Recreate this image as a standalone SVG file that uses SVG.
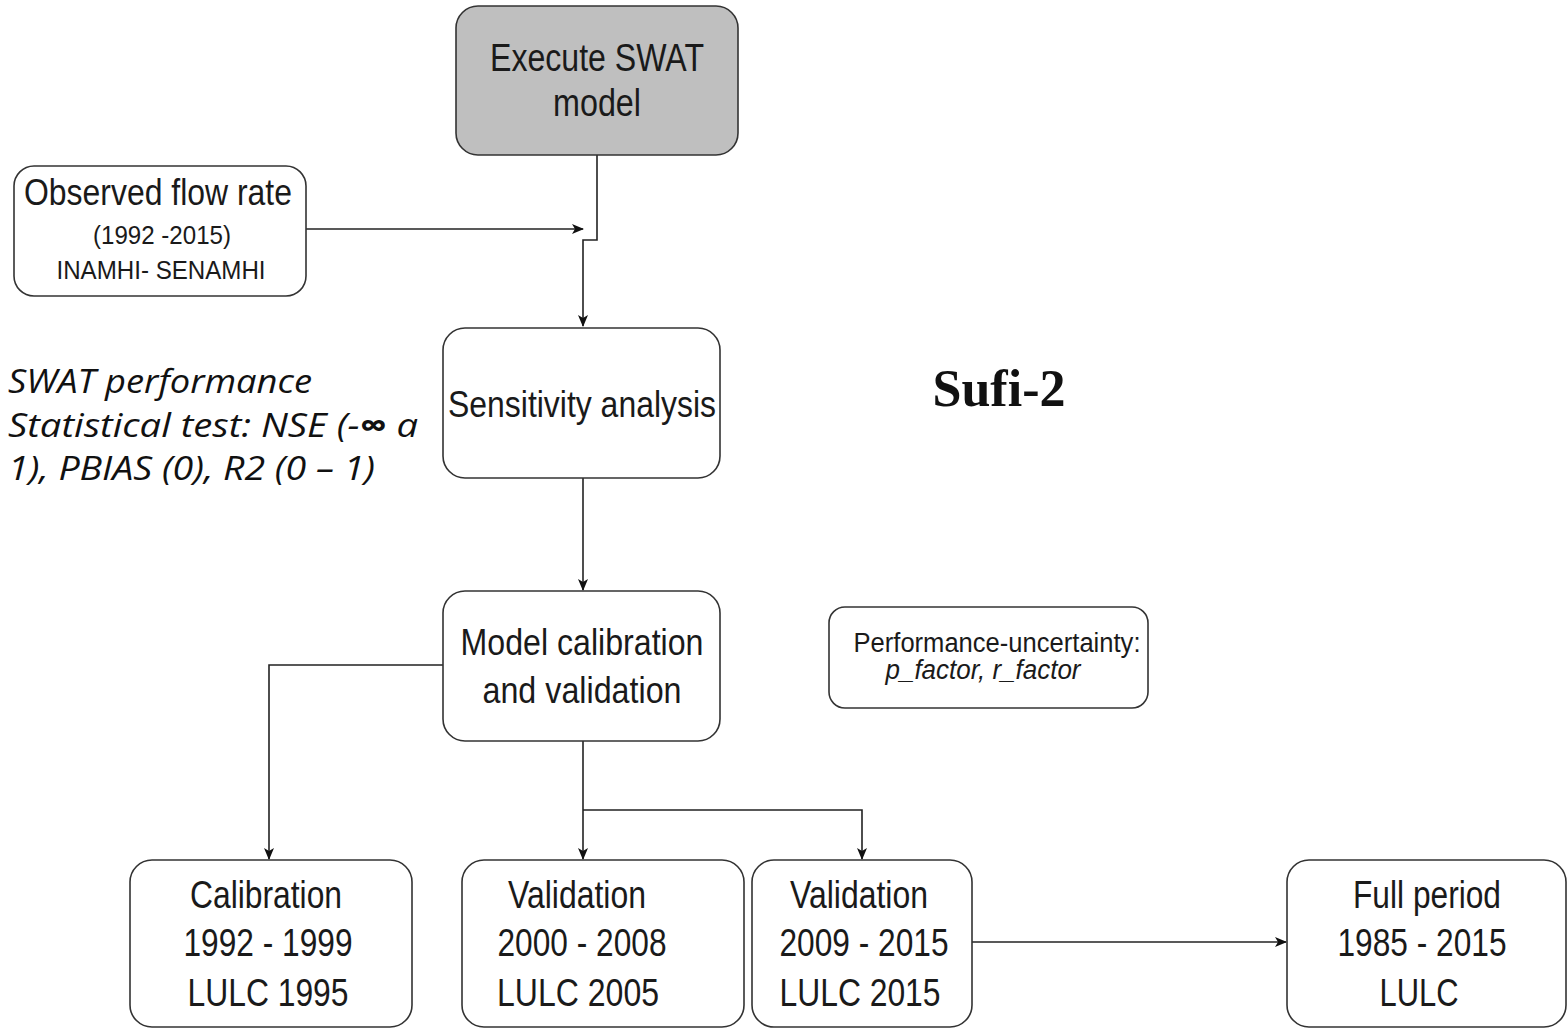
<svg xmlns="http://www.w3.org/2000/svg" width="1568" height="1029" viewBox="0 0 1568 1029">
<defs>
<marker id="ah" markerWidth="12" markerHeight="10" refX="11" refY="5" orient="auto" markerUnits="userSpaceOnUse">
<path d="M0,0 L12,5 L0,10 L3,5 Z" fill="#111"/>
</marker>
<style>
.box{fill:#fff;stroke:#333;stroke-width:1.6}
.t{font-family:"Liberation Sans",Arial,sans-serif;fill:#1a1a1a;text-anchor:middle;dominant-baseline:central}
.c{fill:none;stroke:#222;stroke-width:1.6}
.it{font-family:"Open Sans","Liberation Sans",sans-serif;font-style:italic;fill:#111;dominant-baseline:central}
</style>
</defs>
<rect width="1568" height="1029" fill="#fff"/>
<g id="connectors">
<polyline class="c" points="597,155 597,240 583,240 583,326" marker-end="url(#ah)"/>
<line class="c" x1="306" y1="229" x2="583" y2="229" marker-end="url(#ah)"/>
<line class="c" x1="583" y1="478" x2="583" y2="590" marker-end="url(#ah)"/>
<polyline class="c" points="443,665 269,665 269,859" marker-end="url(#ah)"/>
<line class="c" x1="583" y1="741" x2="583" y2="859" marker-end="url(#ah)"/>
<polyline class="c" points="583,810 862,810 862,859" marker-end="url(#ah)"/>
<line class="c" x1="972" y1="942" x2="1286" y2="942" marker-end="url(#ah)"/>
</g>
<g id="execute">
<rect x="456" y="6" width="282" height="149" rx="22" fill="#bfbfbf" stroke="#333" stroke-width="1.6"/>
<text class="t" x="597" y="58" font-size="38" textLength="214" lengthAdjust="spacingAndGlyphs">Execute SWAT</text>
<text class="t" x="597" y="103" font-size="38" textLength="88" lengthAdjust="spacingAndGlyphs">model</text>
</g>
<g id="observed">
<rect class="box" x="14" y="166" width="292" height="130" rx="20"/>
<text class="t" x="158" y="192" font-size="36" textLength="268" lengthAdjust="spacingAndGlyphs">Observed flow rate</text>
<text class="t" x="162" y="235" font-size="26" textLength="138" lengthAdjust="spacingAndGlyphs">(1992 -2015)</text>
<text class="t" x="161" y="270" font-size="26" textLength="209" lengthAdjust="spacingAndGlyphs">INAMHI- SENAMHI</text>
</g>
<g id="sensitivity">
<rect class="box" x="443" y="328" width="277" height="150" rx="22"/>
<text class="t" x="582" y="404" font-size="36" textLength="268" lengthAdjust="spacingAndGlyphs">Sensitivity analysis</text>
</g>
<g id="swatperf">
<text class="it" x="8" y="380" font-size="33" textLength="304" lengthAdjust="spacingAndGlyphs">SWAT performance</text>
<text class="it" x="8" y="424" font-size="33" textLength="410" lengthAdjust="spacingAndGlyphs">Statistical test: NSE (-<tspan font-weight="bold">∞</tspan>     a</text>
<text class="it" x="8" y="467" font-size="33" textLength="367" lengthAdjust="spacingAndGlyphs">1), PBIAS (0), R2 (0 – 1)</text>
</g>
<g id="sufi">
<text x="999" y="388" font-family="'Liberation Serif','Times New Roman',serif" font-weight="bold" font-size="52" fill="#111" text-anchor="middle" dominant-baseline="central">Sufi-2</text>
</g>
<g id="calibval">
<rect class="box" x="443" y="591" width="277" height="150" rx="22"/>
<text class="t" x="582" y="642" font-size="36" textLength="243" lengthAdjust="spacingAndGlyphs">Model calibration</text>
<text class="t" x="582" y="690" font-size="36" textLength="199" lengthAdjust="spacingAndGlyphs">and validation</text>
</g>
<g id="performance">
<rect class="box" x="829" y="607" width="319" height="101" rx="16"/>
<text class="t" x="997" y="643" font-size="27" textLength="287" lengthAdjust="spacingAndGlyphs">Performance-uncertainty:</text>
<text class="t" x="983" y="670" font-size="27" font-style="italic" textLength="195" lengthAdjust="spacingAndGlyphs">p_factor, r_factor</text>
</g>
<g id="calibration">
<rect class="box" x="130" y="860" width="282" height="167" rx="22"/>
<text class="t" x="266" y="895" font-size="38" textLength="152" lengthAdjust="spacingAndGlyphs">Calibration</text>
<text class="t" x="268" y="943" font-size="38" textLength="169" lengthAdjust="spacingAndGlyphs">1992 - 1999</text>
<text class="t" x="268" y="993" font-size="38" textLength="161" lengthAdjust="spacingAndGlyphs">LULC 1995</text>
</g>
<g id="validation1">
<rect class="box" x="462" y="860" width="282" height="167" rx="22"/>
<text class="t" x="577" y="895" font-size="38" textLength="138" lengthAdjust="spacingAndGlyphs">Validation</text>
<text class="t" x="582" y="943" font-size="38" textLength="169" lengthAdjust="spacingAndGlyphs">2000 - 2008</text>
<text class="t" x="578" y="993" font-size="38" textLength="162" lengthAdjust="spacingAndGlyphs">LULC 2005</text>
</g>
<g id="validation2">
<rect class="box" x="752" y="860" width="220" height="167" rx="22"/>
<text class="t" x="859" y="895" font-size="38" textLength="138" lengthAdjust="spacingAndGlyphs">Validation</text>
<text class="t" x="864" y="943" font-size="38" textLength="169" lengthAdjust="spacingAndGlyphs">2009 - 2015</text>
<text class="t" x="860" y="993" font-size="38" textLength="161" lengthAdjust="spacingAndGlyphs">LULC 2015</text>
</g>
<g id="fullperiod">
<rect class="box" x="1287" y="860" width="279" height="167" rx="22"/>
<text class="t" x="1427" y="895" font-size="38" textLength="148" lengthAdjust="spacingAndGlyphs">Full period</text>
<text class="t" x="1422" y="943" font-size="38" textLength="169" lengthAdjust="spacingAndGlyphs">1985 - 2015</text>
<text class="t" x="1419" y="993" font-size="38" textLength="79" lengthAdjust="spacingAndGlyphs">LULC</text>
</g>
</svg>
